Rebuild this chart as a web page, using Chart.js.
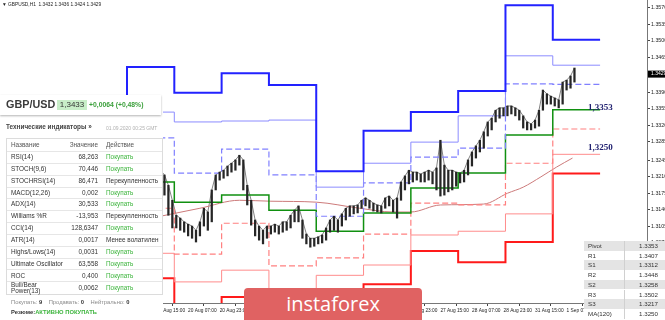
<!DOCTYPE html>
<html>
<head>
<meta charset="utf-8">
<script src="https://cdn.jsdelivr.net/npm/chart.js@4.4.1/dist/chart.umd.min.js"></script>
<style>
  html, body { margin: 0; padding: 0; background: #fff; }
  body { width: 665px; height: 320px; overflow: hidden; position: relative; font-family: "Liberation Sans", Arial, sans-serif; color: #333; }
  #chart { position: absolute; left: 0; top: 0; }
  .abs { position: absolute; white-space: nowrap; }
  #hdr { left: 2px; top: 2px; font-size: 4.8px; line-height: 6px; color: #222; }
  #panel { left: 0; top: 95px; width: 163px; height: 225px; background: #fff; }
  #bar { left: 0; top: 0; width: 161px; height: 20px; background: #fff; box-shadow: 0 1px 2px rgba(0,0,0,.3); }
  #sym { left: 6px; top: 3px; font-size: 10.8px; line-height: 12px; font-weight: bold; color: #3a3a3a; }
  #px { left: 57px; top: 5px; width: 30px; height: 10px; background: #c8eec8; font-size: 8px; line-height: 10px; text-align: center; color: #333; }
  #chg { left: 89px; top: 5px; font-size: 6.8px; line-height: 10px; font-weight: bold; color: #3a9f3a; }
  #ti { left: 6px; top: 28px; font-size: 6.4px; line-height: 8px; font-weight: bold; color: #444; }
  #dt { left: 106px; top: 28.5px; font-size: 5px; line-height: 8px; color: #b0b0b0; }
  #tbl { left: 6px; top: 43px; width: 155px; height: 155px; border: 1px solid #dcdcdc; }
  .row { position: absolute; left: 0; width: 155px; border-bottom: 1px solid #e6e6e6; font-size: 6.4px; }
  .row span { position: absolute; top: 0; }
  .buy { color: #3cb43c; }
  #sum { left: 11px; top: 203px; font-size: 5.8px; line-height: 8px; color: #8a8a8a; }
  #sum b { color: #333; }
  #res { left: 11px; top: 213px; font-size: 5.8px; line-height: 8px; font-weight: bold; color: #333; }
  #res span { color: #3cb43c; }
  #logo { left: 244px; top: 288px; width: 178px; height: 40px; background: #e06262; border-radius: 4px; color: #fff; font-family: "Open Sans", sans-serif; font-size: 20px; line-height: 32px; text-align: center; }
  #piv { left: 584px; top: 241px; width: 81px; height: 79px; background: #fff; }
  .prow { position: absolute; left: 0; width: 81px; height: 9.7px; font-size: 6.2px; line-height: 9.7px; color: #333; }
  .prow span { position: absolute; top: 0; }
  .tag { font-family: "Liberation Serif", serif; font-weight: bold; font-size: 9px; color: #202070; }
</style>
</head>
<body>
<canvas id="chart" width="665" height="320"></canvas>
<div id="hdr" class="abs">▼ GBPUSD,H1&nbsp; 1.3432 1.3436 1.3424 1.3429</div>
<div class="abs tag" style="left:588px;top:102px">1,3353</div>
<div class="abs tag" style="left:588px;top:142px">1,3250</div>
<div id="logo" class="abs">instaforex</div>
<div id="piv" class="abs"></div>
<div id="panel" class="abs">
  <div id="bar" class="abs"></div>
  <div id="sym" class="abs">GBP/USD</div>
  <div id="px" class="abs">1,3433</div>
  <div id="chg" class="abs">+0,0064 (+0,48%)</div>
  <div id="ti" class="abs">Технические индикаторы »</div>
  <div id="dt" class="abs">01.09.2020 00:25 GMT</div>
  <div id="tbl" class="abs"></div>
  <div id="sum" class="abs">Покупать: <b>9</b>&nbsp;&nbsp;&nbsp; Продавать: <b>0</b>&nbsp;&nbsp;&nbsp; Нейтрально: <b>0</b></div>
  <div id="res" class="abs">Резюме:<span>АКТИВНО ПОКУПАТЬ</span></div>
</div>
<script>
// hours counted in trading hours from 19 Aug 00:00
const dayStarts = [-24, 0, 24, 48, 72, 96, 120, 144, 168, 192, 216];
const dayEnd = 240;
const r3 = [1.3360, 1.3444, 1.3389, 1.3431, 1.3406, 1.3222, 1.3308, 1.3348, 1.3393, 1.3576, 1.3502];
const r2 = [1.3330, 1.3348, 1.3327, 1.3329, 1.3331, 1.3188, 1.3239, 1.3284, 1.3340, 1.3468, 1.3448];
const r1 = [1.3290, 1.3293, 1.3218, 1.3269, 1.3214, 1.3126, 1.3197, 1.3252, 1.3271, 1.3408, 1.3407];
const pivot = [1.3240, 1.3199, 1.3156, 1.3171, 1.3139, 1.3094, 1.3133, 1.3186, 1.3218, 1.3299, 1.3353];
const s1 = [1.3190, 1.3143, 1.3045, 1.3111, 1.3020, 1.3037, 1.3088, 1.3154, 1.3150, 1.3239, 1.3312];
const s2 = [1.3150, 1.3047, 1.2986, 1.3011, 1.2947, 1.3000, 1.3022, 1.3086, 1.3094, 1.3131, 1.3258];
const s3 = [1.3100, 1.2994, 1.2877, 1.2954, 1.2830, 1.2943, 1.2981, 1.3052, 1.3028, 1.3071, 1.3217];

const maHours = [17, 37, 57, 73, 96, 118, 135, 144, 159, 181, 193, 201, 210, 218, 226];
const maValues = [1.3126, 1.3143, 1.3160, 1.3158, 1.3156, 1.3143, 1.3135, 1.3135, 1.3150, 1.3152, 1.3175, 1.3188, 1.3210, 1.3231, 1.3250];

const barHours = [17, 19, 21, 23, 25, 27, 29, 31, 33, 35, 37, 39, 41, 43, 45, 47, 49, 51, 53, 55,
  57, 59, 61, 63, 65, 67, 69, 71, 73, 75, 77, 79, 81, 83, 85, 87, 89, 91, 93, 95,
  97, 99, 101, 103, 105, 107, 109, 111, 113, 115, 117, 119, 121, 123, 125, 127, 129, 131, 133, 135,
  137, 139, 141, 143, 145, 147, 149, 151, 153, 155, 157, 159, 161, 163, 165, 167, 169, 171, 173, 175,
  177, 179, 181, 183, 185, 187, 189, 191, 193, 195, 197, 199, 201, 203, 205, 207, 209, 211, 213, 215,
  217, 219, 221, 223, 225, 227];
const highs = [1.3224, 1.3214, 1.3192, 1.3160, 1.3128, 1.3122, 1.3114, 1.3109, 1.3105, 1.3096,
  1.3114, 1.3143, 1.3135, 1.3182, 1.3214, 1.3220, 1.3224, 1.3233, 1.3239, 1.3246,
  1.3256, 1.3246, 1.3192, 1.3160, 1.3118, 1.3105, 1.3096, 1.3105, 1.3105, 1.3109,
  1.3105, 1.3114, 1.3114, 1.3128, 1.3139, 1.3148, 1.3118, 1.3088, 1.3079, 1.3079,
  1.3082, 1.3086, 1.3101, 1.3118, 1.3126, 1.3118, 1.3131, 1.3143, 1.3148, 1.3148,
  1.3150, 1.3160, 1.3165, 1.3160, 1.3154, 1.3150, 1.3148, 1.3165, 1.3169, 1.3160,
  1.3165, 1.3199, 1.3212, 1.3224, 1.3220, 1.3220, 1.3216, 1.3220, 1.3224, 1.3220,
  1.3229, 1.3288, 1.3235, 1.3224, 1.3224, 1.3220, 1.3218, 1.3224, 1.3246, 1.3263,
  1.3276, 1.3288, 1.3306, 1.3327, 1.3335, 1.3352, 1.3357, 1.3357, 1.3361, 1.3361,
  1.3357, 1.3352, 1.3340, 1.3327, 1.3323, 1.3331, 1.3352, 1.3395, 1.3387, 1.3382,
  1.3378, 1.3374, 1.3412, 1.3416, 1.3425, 1.3442];
const lows = [1.3182, 1.3171, 1.3128, 1.3101, 1.3101, 1.3096, 1.3092, 1.3084, 1.3079, 1.3071,
  1.3084, 1.3105, 1.3096, 1.3114, 1.3182, 1.3203, 1.3207, 1.3212, 1.3220, 1.3224,
  1.3235, 1.3182, 1.3150, 1.3107, 1.3084, 1.3075, 1.3067, 1.3079, 1.3088, 1.3092,
  1.3088, 1.3092, 1.3096, 1.3101, 1.3114, 1.3114, 1.3079, 1.3067, 1.3060, 1.3062,
  1.3067, 1.3069, 1.3075, 1.3092, 1.3096, 1.3092, 1.3105, 1.3118, 1.3126, 1.3131,
  1.3133, 1.3143, 1.3148, 1.3143, 1.3137, 1.3135, 1.3133, 1.3143, 1.3148, 1.3135,
  1.3122, 1.3160, 1.3182, 1.3195, 1.3199, 1.3203, 1.3199, 1.3199, 1.3203, 1.3195,
  1.3182, 1.3169, 1.3171, 1.3178, 1.3182, 1.3190, 1.3197, 1.3199, 1.3214, 1.3233,
  1.3250, 1.3263, 1.3271, 1.3297, 1.3310, 1.3327, 1.3335, 1.3340, 1.3340, 1.3344,
  1.3340, 1.3331, 1.3314, 1.3310, 1.3310, 1.3314, 1.3318, 1.3352, 1.3365, 1.3365,
  1.3361, 1.3357, 1.3365, 1.3395, 1.3399, 1.3412];
const lastPrice = 1.3429;

const xTickHours = [15, 31, 47, 63, 79, 95, 111, 127, 143, 159, 175, 191, 207, 223];
const xTickLabels = ['19 Aug 15:00', '20 Aug 07:00', '20 Aug 23:00', '21 Aug 15:00', '24 Aug 07:00', '24 Aug 23:00',
  '25 Aug 15:00', '26 Aug 07:00', '26 Aug 23:00', '27 Aug 15:00', '28 Aug 07:00', '28 Aug 23:00', '31 Aug 15:00', '1 Sep 07:00'];
const yTicks = [1.3570, 1.3535, 1.3500, 1.3465, 1.3430, 1.3390, 1.3355, 1.3320, 1.3285, 1.3245, 1.3210,
  1.3175, 1.3140, 1.3105, 1.3070, 1.3035, 1.3000, 1.2965];

const indNames = ['RSI(14)', 'STOCH(9,6)', 'STOCHRSI(14)', 'MACD(12,26)', 'ADX(14)', 'Williams %R', 'CCI(14)',
  'ATR(14)', 'Highs/Lows(14)', 'Ultimate Oscillator', 'ROC', 'Bull/Bear<br>Power(13)'];
const indValues = ['68,263', '70,446', '86,471', '0,002', '30,533', '-13,953', '128,6347', '0,0017', '0,0031', '63,558', '0,400', '0,0062'];
const indActions = ['Покупать', 'Покупать', 'Перекупленность', 'Покупать', 'Покупать', 'Перекупленность', 'Покупать',
  'Менее волатилен', 'Покупать', 'Покупать', 'Покупать', 'Покупать'];

const pivotNames = ['Pivot', 'R1', 'S1', 'R2', 'S2', 'R3', 'S3', 'MA(120)'];
const pivotValues = ['1.3353', '1.3407', '1.3312', '1.3448', '1.3258', '1.3502', '1.3217', '1.3250'];

// indicator table
const tbl = document.getElementById('tbl');
let html = '<div class="row" style="top:0;height:12px;line-height:12px;color:#555"><span style="left:4px">Название</span>' +
  '<span style="right:64px">Значение</span><span style="left:99px">Действие</span></div>';
indNames.forEach(function(name, i) {
  const top = 12 + i * 11.85;
  const last = i === indNames.length - 1;
  const h = last ? 13 : 11.85;
  const lh = last ? 'line-height:6px;top:0.5px' : 'line-height:' + h + 'px';
  html += '<div class="row" style="top:' + top + 'px;height:' + h + 'px;' + (last ? 'border-bottom:none;' : '') + '">' +
    '<span style="left:4px;' + lh + '">' + name + '</span>' +
    '<span style="right:64px;line-height:' + h + 'px">' + indValues[i] + '</span>' +
    '<span class="' + (indActions[i] === 'Покупать' ? 'buy' : '') + '" style="left:99px;line-height:' + h + 'px">' + indActions[i] + '</span></div>';
});
tbl.innerHTML = html;

// pivot table
const piv = document.getElementById('piv');
piv.innerHTML = pivotNames.map(function(n, i) {
  return '<div class="prow" style="top:' + (i * 9.7) + 'px;background:' + (i % 2 === 0 ? '#e4e4e4' : '#fff') + '">' +
    '<span style="left:4px">' + n + '</span><span style="left:40px;top:0;height:9.7px;border-left:1px solid #d0d0d0"></span>' +
    '<span style="right:7px">' + pivotValues[i] + '</span></div>';
}).join('');

function steps(values) {
  const pts = dayStarts.map((h, i) => ({ x: h, y: values[i] }));
  pts.push({ x: dayEnd, y: values[values.length - 1] });
  return pts;
}
function levelLine(label, values, color, width, dash) {
  return {
    type: 'line', label: label, data: steps(values), stepped: 'before',
    borderColor: color, borderWidth: width, borderDash: dash || [], pointRadius: 0, fill: false
  };
}

const priceTag = {
  id: 'priceTag',
  afterDraw(chart) {
    const ctx = chart.ctx, ys = chart.scales.y;
    const py = ys.getPixelForValue(lastPrice);
    ctx.save();
    ctx.fillStyle = '#000';
    ctx.fillRect(ys.left + 1, py - 3.5, 18, 7);
    ctx.fillStyle = '#fff';
    ctx.font = '5px "Liberation Sans"';
    ctx.textBaseline = 'middle';
    ctx.fillText(lastPrice.toFixed(4), ys.left + 4, py);
    ctx.restore();
  }
};

new Chart(document.getElementById('chart'), {
  type: 'line',
  data: {
    datasets: [
      {
        type: 'bar', label: 'GBPUSD',
        data: barHours.map((h, i) => ({ x: h, y: [lows[i], highs[i]] })),
        backgroundColor: '#262626', barThickness: 1.6, order: 0
      },
      levelLine('R3', r3, '#2222ff', 2),
      levelLine('R2', r2, '#8c8cff', 1),
      levelLine('R1', r1, '#8080ff', 1.2, [6, 3]),
      levelLine('Pivot', pivot, '#109010', 1.5),
      levelLine('S1', s1, '#ff8080', 1.2, [6, 3]),
      levelLine('S2', s2, '#ff8c8c', 1),
      levelLine('S3', s3, '#ff1a1a', 2),
      {
        type: 'line', label: 'MA(120)', data: maHours.map((h, i) => ({ x: h, y: maValues[i] })),
        borderColor: '#cc7a7a', borderWidth: 1, pointRadius: 0, tension: 0.4, cubicInterpolationMode: 'monotone'
      },
      {
        type: 'line', label: 'path', data: barHours.map((h, i) => ({ x: h, y: highs[i] })),
        borderColor: 'rgba(30,30,30,0.55)', borderWidth: 1, pointRadius: 0
      }
    ]
  },
  options: {
    responsive: false,
    animation: false,
    layout: { padding: 0 },
    plugins: { legend: { display: false }, tooltip: { enabled: false } },
    scales: {
      x: {
        type: 'linear', min: -64.43, max: 263.8, offset: false,
        grid: { drawOnChartArea: false, tickLength: 3, color: '#444' },
        border: { color: '#777' },
        afterBuildTicks: (scale) => { scale.ticks = xTickHours.map(v => ({ value: v })); },
        afterFit: (scale) => { scale.height = 17; scale.paddingLeft = 0; scale.paddingRight = 0; },
        ticks: {
          autoSkip: false, maxRotation: 0, align: 'start', padding: 2,
          color: '#222', font: { family: 'Liberation Sans', size: 4.8 },
          callback: (v) => xTickLabels[xTickHours.indexOf(v)] || ''
        }
      },
      y: {
        position: 'right', min: 1.2941, max: 1.3587,
        grid: { drawOnChartArea: false, tickLength: 3, color: '#444' },
        border: { color: '#777' },
        afterBuildTicks: (scale) => { scale.ticks = yTicks.map(v => ({ value: v })); },
        afterFit: (scale) => { scale.width = 18; scale.paddingTop = 0; scale.paddingBottom = 0; },
        ticks: {
          padding: 1, color: '#222', font: { family: 'Liberation Sans', size: 5.3 },
          callback: (v) => v.toFixed(4)
        }
      }
    }
  },
  plugins: [priceTag]
});
</script>
</body>
</html>
